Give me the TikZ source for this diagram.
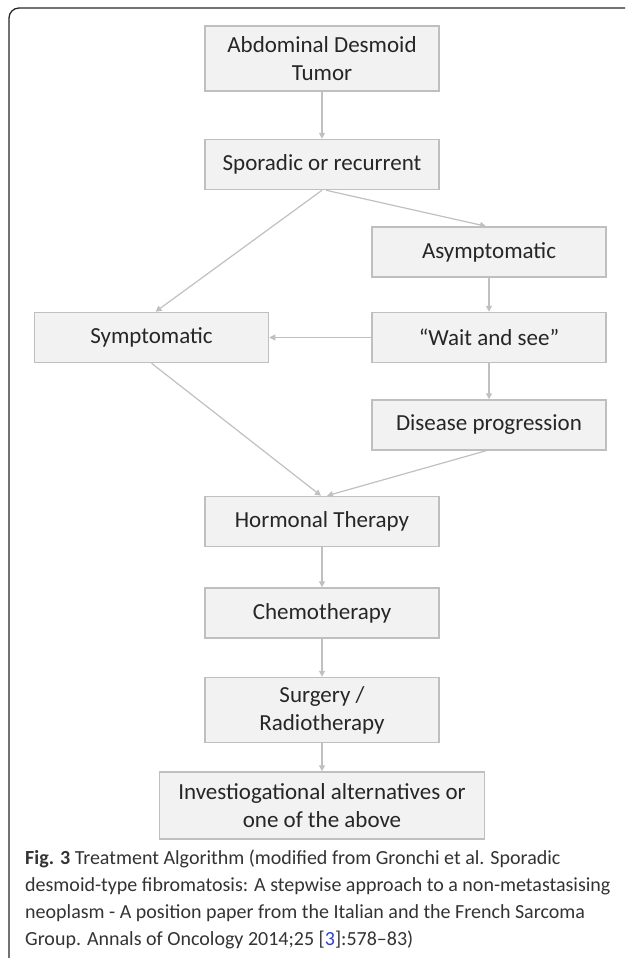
\documentclass[tikz,border=0pt]{standalone}
\usepackage{fontspec}
\setmainfont{Carlito}
\usepackage{xcolor}
\usetikzlibrary{arrows.meta, positioning, calc}

\definecolor{boxfill}{HTML}{F2F2F2}
\definecolor{boxline}{HTML}{BFBFBF}
\definecolor{arrowgray}{HTML}{C0C0C0}
\definecolor{reflink}{HTML}{2A3FD6}

\begin{document}
\begin{tikzpicture}[
			x=1pt, y=1pt,
			every node/.style={font=\fontsize{23}{28}\selectfont, text=black!85},
			stepbox/.style={
				rectangle, draw=boxline, fill=boxfill,
				line width=1.5pt, inner sep=0pt,
				minimum width=234pt, minimum height=50pt,
				align=center
			},
			tallbox/.style={
				stepbox, minimum height=65pt
			},
			arrow/.style={
				-{Triangle[length=6pt,width=6pt]},
				line width=1.2pt, draw=arrowgray
			},
			frame/.style={
				line width=1.3pt, draw=black!85
			},
			caption/.style={
				anchor=north west, align=left, inner sep=0pt,
				font=\fontsize{20}{27}\selectfont, text=black!80
			}
			]
			
			\useasboundingbox (0,0) rectangle (625,-958);
			
			% Outer frame
			\draw[frame] (9,-958) -- (9,-18) arc[start angle=180, end angle=90, radius=10] -- (625,-8);
			
			% Main column
			\node[tallbox] (tumor) at (322,-58.5) {Abdominal Desmoid\\Tumor};
			\node[stepbox, below=47pt of tumor] (sporadic) {Sporadic or recurrent};
			
			% Right column
			\node[stepbox] (asympt) at (489,-252) {Asymptomatic};
			\node[stepbox, below=34pt of asympt] (wait) {``Wait and see''};
			\node[stepbox, below=36pt of wait]   (progr) {Disease progression};
			
			% Left column
			\node[stepbox, left=102pt of wait] (sympt) {Symptomatic};
			
			% Treatment steps
			\node[stepbox] (hormonal) at (322,-521.5) {Hormonal Therapy};
			\node[stepbox, below=40pt of hormonal] (chemo) {Chemotherapy};
			\node[tallbox, below=38pt of chemo] (surgery) {Surgery /\\Radiotherapy};
			\node[tallbox, minimum width=325pt, minimum height=67pt, below=28pt of surgery] (invest)
				{Investiogational alternatives or\\one of the above};
			
			% Arrows
			\draw[arrow] (tumor) -- (sporadic);
			\draw[arrow] ([xshift=4pt]sporadic.south) -- ([xshift=-3pt]asympt.north);
			\draw[arrow] (sporadic.south) -- ([xshift=4pt]sympt.north);
			\draw[arrow] (asympt) -- (wait);
			\draw[arrow] (wait) -- (sympt);
			\draw[arrow] (wait) -- (progr);
			\draw[arrow] (sympt.south) -- ([xshift=-1pt]hormonal.north);
			\draw[arrow] ([xshift=-3pt]progr.south) -- ([xshift=5pt]hormonal.north);
			\draw[arrow] (hormonal) -- (chemo);
			\draw[arrow] (chemo) -- (surgery);
			\draw[arrow] (surgery) -- (invest);
			
			% Caption
			\node[caption] (cap) at (25,-850)
				{\textbf{Fig. 3} Treatment Algorithm (modified from Gronchi et al. Sporadic\\
				desmoid-type fibromatosis: A stepwise approach to a non-metastasising\\
				neoplasm - A position paper from the Italian and the French Sarcoma\\
				Group. Annals of Oncology 2014;25 [\textcolor{reflink}{3}]:578--83)};
			
		\end{tikzpicture}
\end{document}
